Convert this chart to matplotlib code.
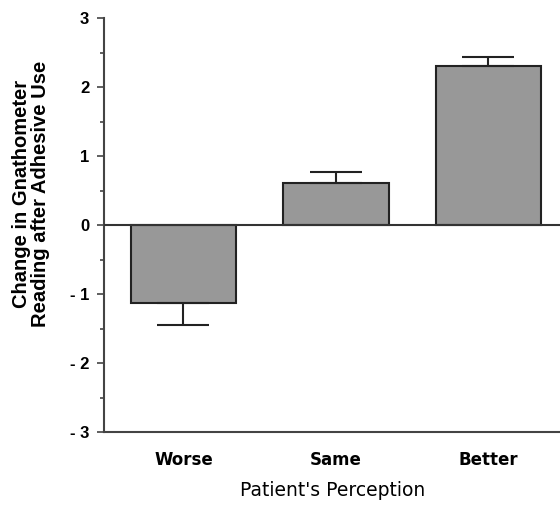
import matplotlib
matplotlib.use("Agg")
import matplotlib.pyplot as plt
from matplotlib.ticker import MultipleLocator, FixedLocator

categories = ["Worse", "Same", "Better"]
values = [-1.13, 0.61, 2.30]
errors = [0.32, 0.16, 0.13]
ytick_vals = [-3, -2, -1, 0, 1, 2, 3]
ytick_labels = ["- 3", "- 2", "- 1", "0", "1", "2", "3"]

fig = plt.figure(figsize=(5.6, 5.17), dpi=100)
ax = fig.add_axes([0.1866, 0.1644, 0.8134, 0.8006])

x = list(range(len(categories)))
ax.bar(x, values, width=0.69, color="#989898", edgecolor="#222222", linewidth=1.5, zorder=2)

lower = [e if v < 0 else 0 for v, e in zip(values, errors)]
upper = [e if v >= 0 else 0 for v, e in zip(values, errors)]
ax.errorbar(x, values, yerr=[lower, upper], fmt="none", ecolor="#222222",
            elinewidth=1.5, capsize=18.5, capthick=1.5, zorder=3)

ax.axhline(0, color="#333333", linewidth=1.5, zorder=4)

ax.set_xlim(-0.518, 2.47)
ax.set_ylim(-3, 3)
ax.yaxis.set_major_locator(FixedLocator(ytick_vals))
ax.set_yticklabels(ytick_labels, fontsize=12, fontweight="bold", family="Liberation Sans")
ax.yaxis.set_minor_locator(MultipleLocator(0.5))
ax.tick_params(axis="y", which="major", length=5, width=1.2, color="#444444", pad=6)
ax.tick_params(axis="y", which="minor", length=3, width=1.2, color="#444444")

ax.set_xticks(x)
ax.set_xticklabels(categories, fontsize=12, fontweight="bold", family="DejaVu Sans")
ax.tick_params(axis="x", length=0, pad=14)

for s in ["top", "right"]:
    ax.spines[s].set_visible(False)
for s in ["left", "bottom"]:
    ax.spines[s].set_color("#444444")
    ax.spines[s].set_linewidth(1.5)

ax.set_xlabel("Patient's Perception", fontsize=13.5, family="DejaVu Sans", labelpad=8)
ax.set_ylabel("Change in Gnathometer\nReading after Adhesive Use", fontsize=14.5,
              fontweight="bold", family="Liberation Sans", linespacing=1.05)
ax.yaxis.set_label_coords(-0.119, 0.575)

fig.savefig("out.png", dpi=100)
